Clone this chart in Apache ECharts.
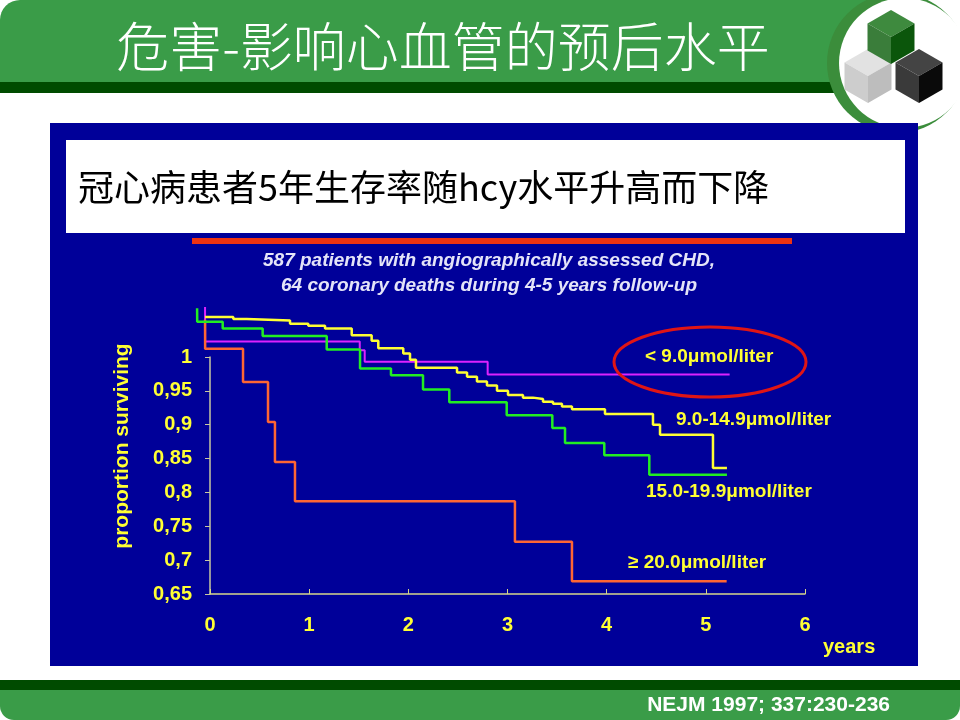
<!DOCTYPE html>
<html>
<head>
<meta charset="UTF-8">
<title>危害-影响心血管的预后水平</title>
<script src="https://cdn.jsdelivr.net/npm/echarts@6/dist/echarts.min.js"></script>
<style>
  html, body { margin: 0; padding: 0; background: #fff; }
  #main { width: 960px; height: 720px; }
</style>
</head>
<body>
<div id="main"></div>
<script>
// Kaplan-Meier style curves (years, proportion surviving)
var lowT = [-0.05, -0.049, 1.51, 1.56, 2.80, 5.24];            // < 9.0
var lowS = [1.074, 1.023, 1.010, 0.993, 0.974, 0.974];

var midT = [-0.05, 0.235, 0.370, 0.807, 0.991, 1.160, 1.429, 1.630, 1.697, 1.949, 2.017, 2.077,
            2.491, 2.592, 2.692, 2.793, 2.894, 3.005, 3.156, 3.257, 3.358, 3.459, 3.549, 3.650,
            3.983, 4.467, 4.538, 5.072, 5.213];                 // 9.0-14.9
var midS = [1.059, 1.056, 1.054, 1.049, 1.046, 1.042, 1.032, 1.024, 1.013, 1.005, 0.996, 0.984,
            0.977, 0.971, 0.964, 0.958, 0.950, 0.944, 0.940, 0.938, 0.934, 0.931, 0.927, 0.923,
            0.916, 0.900, 0.885, 0.836, 0.836];

var highT = [-0.13, -0.129, 0.128, 0.531, 1.177, 1.513, 1.825, 2.148, 2.413, 2.992, 3.452,
             3.580, 3.976, 4.430, 5.213];                       // 15.0-19.9
var highS = [1.072, 1.052, 1.042, 1.031, 1.011, 0.983, 0.973, 0.952, 0.933, 0.914, 0.895,
             0.873, 0.855, 0.826, 0.826];

var topT = [-0.05, -0.049, 0.333, 0.585, 0.655, 0.857, 3.075, 3.65, 5.21];   // >= 20.0
var topS = [1.055, 1.012, 0.963, 0.904, 0.845, 0.787, 0.727, 0.669, 0.669];

var groupNames = ['< 9.0\u03bcmol/liter', '9.0-14.9\u03bcmol/liter', '15.0-19.9\u03bcmol/liter', '\u2265 20.0\u03bcmol/liter'];
var groupColors = ['#dd22ff', '#ffff33', '#22ee22', '#ff6633'];

var yearTicks = [0, 1, 2, 3, 4, 5, 6];

function pairs(t, s) {
  return t.map(function (x, i) { return [x, s[i]]; });
}

var narrow = "'Liberation Sans Narrow', 'Liberation Sans', Arial, sans-serif";
var cjk = "'Noto Sans CJK SC', sans-serif";
var yellow = '#ffff33';
var lblFont = 'bold 19px Liberation Sans, Arial';

// isometric cube helper for the logo
function cube(cx, cy, s, top, left, right) {
  var w = s * 0.87;
  return [
    { type: 'polygon', shape: { points: [[cx, cy - s], [cx + w, cy - s / 2], [cx, cy], [cx - w, cy - s / 2]] }, style: { fill: top } },
    { type: 'polygon', shape: { points: [[cx - w, cy - s / 2], [cx, cy], [cx, cy + s], [cx - w, cy + s / 2]] }, style: { fill: left } },
    { type: 'polygon', shape: { points: [[cx, cy], [cx + w, cy - s / 2], [cx + w, cy + s / 2], [cx, cy + s]] }, style: { fill: right } }
  ];
}

var graphics = [
  // header
  { type: 'rect', shape: { x: 0, y: 0, width: 880, height: 82, r: [20, 0, 0, 0] }, style: { fill: '#3a9c48' } },
  { type: 'rect', shape: { x: 0, y: 82, width: 880, height: 11 }, style: { fill: '#004b00' } },
  { type: 'circle', shape: { cx: 897, cy: 63, r: 70 }, style: { fill: '#3b8d3b' } },
  { type: 'circle', shape: { cx: 904, cy: 63, r: 65 }, style: { fill: '#ffffff' } },
  { type: 'text', x: 443, y: 47, style: { text: '危害-影响心血管的预后水平', fill: '#fff', font: '300 53px ' + cjk, align: 'center', verticalAlign: 'middle' } },
  // blue panel
  { type: 'rect', shape: { x: 50, y: 123, width: 868, height: 543 }, style: { fill: '#000099' } },
  { type: 'rect', shape: { x: 66, y: 140, width: 839, height: 93 }, style: { fill: '#ffffff' } },
  { type: 'text', x: 78, y: 187, style: { text: '冠心病患者5年生存率随hcy水平升高而下降', fill: '#000', font: '36px ' + cjk, verticalAlign: 'middle' } },
  { type: 'rect', shape: { x: 192, y: 238, width: 600, height: 6 }, style: { fill: '#ee3311' } },
  { type: 'text', x: 489, y: 261, style: { text: '587 patients with angiographically assessed CHD,', fill: '#e4e4f8', font: 'italic bold 19px ' + narrow, align: 'center', verticalAlign: 'middle' } },
  { type: 'text', x: 489, y: 286, style: { text: '64 coronary deaths during 4-5 years follow-up', fill: '#e4e4f8', font: 'italic bold 19px ' + narrow, align: 'center', verticalAlign: 'middle' } },
  // axis titles
  { type: 'text', x: 122, y: 446, rotation: Math.PI / 2, style: { text: 'proportion surviving', fill: yellow, font: 'bold 21px Liberation Sans, Arial', align: 'center', verticalAlign: 'middle' } },
  { type: 'text', x: 823, y: 647, style: { text: 'years', fill: yellow, font: 'bold 20px Liberation Sans, Arial', verticalAlign: 'middle' } },
  // curve labels
  { type: 'text', x: 645, y: 357, z: 10, style: { text: groupNames[0], fill: yellow, font: lblFont, verticalAlign: 'middle' } },
  { type: 'text', x: 676, y: 420, z: 10, style: { text: groupNames[1], fill: yellow, font: lblFont, verticalAlign: 'middle' } },
  { type: 'text', x: 646, y: 492, z: 10, style: { text: groupNames[2], fill: yellow, font: lblFont, verticalAlign: 'middle' } },
  { type: 'text', x: 628, y: 563, z: 10, style: { text: groupNames[3], fill: yellow, font: lblFont, verticalAlign: 'middle' } },
  { type: 'ellipse', z: 10, shape: { cx: 710, cy: 362, rx: 96, ry: 35 }, style: { fill: 'none', stroke: '#e01515', lineWidth: 3 } },
  // footer
  { type: 'rect', shape: { x: 0, y: 680, width: 960, height: 10 }, style: { fill: '#004b00' } },
  { type: 'rect', shape: { x: 0, y: 690, width: 960, height: 30, r: [0, 0, 14, 14] }, style: { fill: '#3a9c48' } },
  { type: 'text', x: 890, y: 705, style: { text: 'NEJM 1997; 337:230-236', fill: '#fff', font: 'bold 21px ' + narrow, align: 'right', verticalAlign: 'middle' } }
];
graphics = graphics
  .concat(cube(868, 76, 27, '#e2e2e2', '#cdcdcd', '#bdbdbd'))
  .concat(cube(919, 76, 27, '#444444', '#3a3a3a', '#0a0a0a'))
  .concat(cube(891, 37, 27, '#3e8a3e', '#3a7d3a', '#0b560b'));

// second grid: same scale, extended a little left so the curves' starting
// verticals (drawn just before year 0 in the original) are not clipped
var preStart = -0.15;
var pxPerYear = 595 / 6;

var chart = echarts.init(document.getElementById('main'));
chart.setOption({
  backgroundColor: '#ffffff',
  animation: false,
  graphic: { elements: graphics },
  grid: [
    { left: 210, right: 155, top: 357, bottom: 126 },
    { left: 210 + preStart * pxPerYear, right: 155, top: 357, bottom: 126 }
  ],
  xAxis: [{
    type: 'value', min: 0, max: 6, interval: 1,
    axisLine: { lineStyle: { color: '#d6d68a', width: 1.5 } },
    axisTick: { inside: true, length: 5, lineStyle: { color: '#d6d68a' } },
    splitLine: { show: false },
    axisLabel: { color: yellow, fontWeight: 'bold', fontSize: 20, fontFamily: 'Liberation Sans, Arial', margin: 21,
      formatter: function (v) { return yearTicks.indexOf(v) >= 0 ? String(v) : ''; } }
  }, {
    type: 'value', gridIndex: 1, min: preStart, max: 6, show: false, splitLine: { show: false }
  }],
  yAxis: [{
    type: 'value', min: 0.65, max: 1, interval: 0.05,
    axisLine: { show: true, lineStyle: { color: '#c8c8a0', width: 1.5 } },
    axisTick: { show: true, length: 5, lineStyle: { color: '#c8c8a0' } },
    splitLine: { show: false },
    axisLabel: { color: yellow, fontWeight: 'bold', fontSize: 20, fontFamily: 'Liberation Sans, Arial', margin: 18,
      formatter: function (v) { return String(Math.round(v * 100) / 100).replace('.', ','); } }
  }, {
    type: 'value', gridIndex: 1, min: 0.65, max: 1, show: false, splitLine: { show: false }
  }],
  series: [
    { name: groupNames[0], type: 'line', xAxisIndex: 1, yAxisIndex: 1, step: 'end', symbol: 'none', clip: false, z: 3,
      lineStyle: { color: groupColors[0], width: 2 }, data: pairs(lowT, lowS) },
    { name: groupNames[2], type: 'line', xAxisIndex: 1, yAxisIndex: 1, step: 'end', symbol: 'none', clip: false, z: 4,
      lineStyle: { color: groupColors[2], width: 2.5 }, data: pairs(highT, highS) },
    { name: groupNames[1], type: 'line', xAxisIndex: 1, yAxisIndex: 1, step: 'end', symbol: 'none', clip: false, z: 5,
      lineStyle: { color: groupColors[1], width: 2.5 }, data: pairs(midT, midS) },
    { name: groupNames[3], type: 'line', xAxisIndex: 1, yAxisIndex: 1, step: 'end', symbol: 'none', clip: false, z: 3,
      lineStyle: { color: groupColors[3], width: 2.5 }, data: pairs(topT, topS) }
  ]
});
</script>
</body>
</html>
